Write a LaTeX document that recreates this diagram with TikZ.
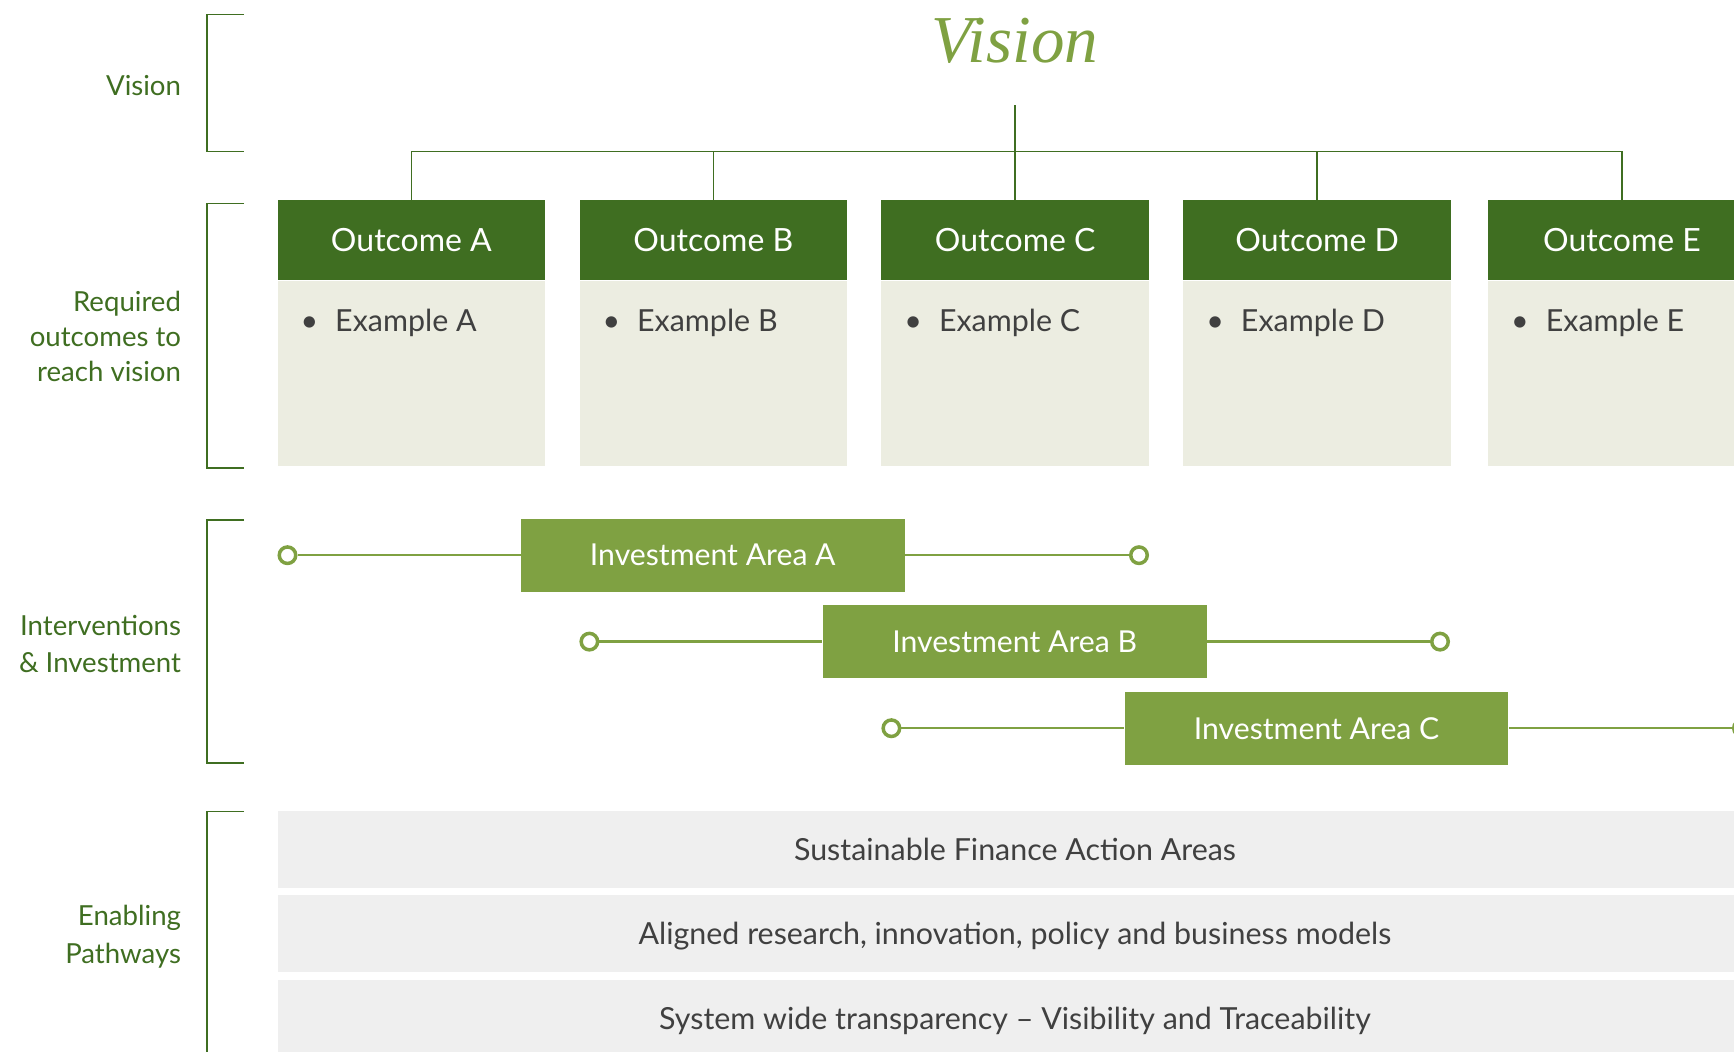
\documentclass[tikz,border=0pt]{standalone}
\usepackage{fontspec}
\setmainfont{Lato}
\newfontfamily\titlefont{Liberation Serif}
\usetikzlibrary{positioning,calc}

\definecolor{forest}{HTML}{3F6E21}
\definecolor{leaf}{HTML}{7FA142}
\definecolor{sage}{HTML}{ECEDE1}
\definecolor{mist}{HTML}{EFEFEF}
\definecolor{ink}{HTML}{404040}

\begin{document}
\begin{tikzpicture}[
  x=0.5pt, y=-0.5pt,
  outhead/.style={fill=forest, text=white, inner sep=0pt,
    minimum width=133.8pt, minimum height=39.8pt, font=\fontsize{16}{19}\selectfont},
  outbody/.style={fill=sage, inner sep=0pt, minimum width=133.8pt, minimum height=92.9pt},
  example/.style={anchor=west, text=ink, inner sep=0pt, font=\fontsize{15.2}{18}\selectfont},
  invest/.style={fill=leaf, text=white, inner sep=0pt,
    minimum width=191.85pt, minimum height=36.5pt, font=\fontsize{15.1}{18}\selectfont},
  knob/.style={circle, draw=leaf, line width=1.75pt, fill=white, inner sep=0pt, minimum size=8.25pt},
  track/.style={draw=leaf, line width=1.25pt},
  link/.style={draw=forest, line width=0.75pt},
  bracket/.style={draw=forest, line width=0.75pt},
  tier/.style={anchor=east, align=right, text=forest, inner sep=0pt,
    font=\fontsize{13.8}{18.8}\selectfont},
  band/.style={fill=mist, text=ink, inner sep=0pt, text depth=0pt,
    minimum width=737.4pt, minimum height=38.5pt, font=\fontsize{15.2}{18}\selectfont}
]
  \useasboundingbox (0,0) rectangle (1734,1051);

  % Row labels and their brackets
  \node[tier] (lVision)   at (181.4,85.2)  {Vision};
  \node[tier, font=\fontsize{13.8}{17.5}\selectfont]
              (lOutcomes) at (181.4,336)   {Required\\outcomes to\\reach vision};
  \node[tier] (lInvest)   at (181.4,644)   {Interventions\\\& Investment};
  \node[tier] (lEnable)   at (181.4,936.7) {Enabling\\Pathways};

  \draw[bracket] (244,14.4)  -- (207,14.4)  -- (207,151.5)  -- (244,151.5);
  \draw[bracket] (244,203.5) -- (207,203.5) -- (207,467.8)  -- (244,467.8);
  \draw[bracket] (244,519.8) -- (207,519.8) -- (207,763)    -- (244,763);
  \draw[bracket] (244,811.7) -- (207,811.7) -- (207,1060);

  % Vision
  \node[anchor=base, text=leaf, font=\titlefont\itshape\fontsize{33.5}{36}\selectfont]
    (vision) at (1015,62.3) {Vision};

  % Outcomes
  \node[outhead] (hA) at (411.4,240)  {Outcome A};
  \node[outhead] (hB) at (713.3,240)  {Outcome B};
  \node[outhead] (hC) at (1015.2,240) {Outcome C};
  \node[outhead] (hD) at (1317.1,240) {Outcome D};
  \node[outhead] (hE) at (1622,240)   {Outcome E};

  \node[outbody, below=0pt of hA] (bA) {};
  \node[outbody, below=0pt of hB] (bB) {};
  \node[outbody, below=0pt of hC] (bC) {};
  \node[outbody, below=0pt of hD] (bD) {};
  \node[outbody, below=0pt of hE] (bE) {};

  \node[example] (eA) at ($(bA.north west)+(23,42.5)$) {\textbullet\hspace{8.5pt}Example A};
  \node[example] (eB) at ($(bB.north west)+(23,42.5)$) {\textbullet\hspace{8.5pt}Example B};
  \node[example] (eC) at ($(bC.north west)+(23,42.5)$) {\textbullet\hspace{8.5pt}Example C};
  \node[example] (eD) at ($(bD.north west)+(23,42.5)$) {\textbullet\hspace{8.5pt}Example D};
  \node[example] (eE) at ($(bE.north west)+(23,42.5)$) {\textbullet\hspace{8.5pt}Example E};

  % Tree from the vision down to the outcomes
  \coordinate (stem) at (1015.2,105);
  \coordinate (hub)  at (1015.2,151.5);
  \draw[link] (stem) -- (hC.north);
  \draw[link] (hA.north) -- (hA.north |- hub) -- (hE.north |- hub) -- (hE.north);
  \draw[link] (hB.north) -- (hB.north |- hub);
  \draw[link] (hD.north) -- (hD.north |- hub);

  % Investment areas on their timelines
  \node[invest] (iA) at (712.8,555.2)  {Investment Area A};
  \node[invest] (iB) at (1014.7,641.6) {Investment Area B};
  \node[invest] (iC) at (1316.6,728.2) {Investment Area C};

  \node[knob] (kA1) at (287.5,555.2)  {};
  \node[knob] (kA2) at (1139,555.2)   {};
  \node[knob] (kB1) at (589.4,641.6)  {};
  \node[knob] (kB2) at (1440,641.6)   {};
  \node[knob] (kC1) at (891.4,728.2)  {};
  \node[knob] (kC2) at (1742,728.2)   {};

  \draw[track] (kA1) -- (iA) -- (kA2);
  \draw[track] (kB1) -- (iB) -- (kB2);
  \draw[track] (kC1) -- (iC) -- (kC2);

  % Enabling pathways
  \node[band] (sfa) at (1015,849.3)  {Sustainable Finance Action Areas};
  \node[band] (arm) at (1015,933.4)  {Aligned research, innovation, policy and business models};
  \node[band] (swt) at (1015,1018.5) {System wide transparency – Visibility and Traceability};
\end{tikzpicture}
\end{document}
